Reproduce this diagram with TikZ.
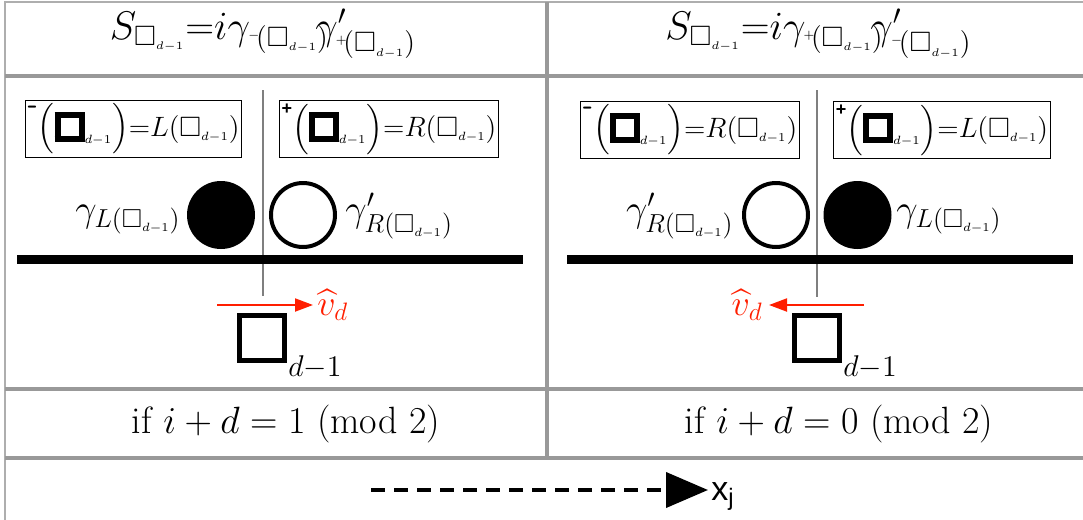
\RequirePackage{fix-cm}
\documentclass[tikz,border=0pt]{standalone}
\usepackage{fontspec}
\usepackage{amsmath}
\usepackage{amssymb}
\usetikzlibrary{arrows.meta,positioning}
\newfontfamily\axisfont{Liberation Sans}
\DeclareMathSizes{14}{14}{9.8}{6}
\DeclareMathSizes{19}{19}{13}{6}
\DeclareMathSizes{20}{20}{14}{5.5}
\definecolor{gridgray}{HTML}{999999}
\definecolor{rimgray}{HTML}{AEAEAE}
\definecolor{axisgray}{HTML}{7F7F7F}
\definecolor{velred}{HTML}{FF1E00}
\newcommand{\thksq}[2]{{\setlength{\fboxrule}{#2}\setlength{\fboxsep}{0pt}\fbox{\rule{0pt}{#1}\rule{#1}{0pt}}}}
\newcommand{\mns}{\raisebox{11.5pt}{\fontsize{14}{14}\selectfont\sffamily\bfseries -}}
\newcommand{\pls}{\raisebox{11pt}{\fontsize{9}{9}\selectfont\axisfont\bfseries +}}
\newcommand{\dsub}{\scriptscriptstyle d-1}
\newcommand{\hsub}[1]{{}^{#1}\mkern-3mu(\square_{d-1})}
\tikzset{
  gridline/.style={draw=gridgray, line width=2pt},
  rimline/.style={draw=rimgray, line width=1pt},
  midline/.style={draw=axisgray, line width=0.75pt},
  floor/.style={draw=black, line width=4.5pt},
  lbox/.style={rectangle, draw=black, line width=0.6pt, minimum width=101.5pt,
               minimum height=28.5pt, inner sep=1pt, font=\fontsize{14}{17}\selectfont},
  ball/.style={circle, fill=black, minimum size=34pt, inner sep=0pt},
  ring/.style={circle, draw=black, line width=2pt, minimum size=32pt, inner sep=0pt},
  glab/.style={inner sep=0pt, font=\fontsize{19}{22}\selectfont},
  vlab/.style={inner sep=0pt, text=velred, font=\fontsize{18}{21}\selectfont},
  velarr/.style={-{Triangle[length=9pt,width=6.5pt]}, draw=velred, line width=1pt},
  cube/.style={rectangle, draw=black, line width=2.5pt, minimum size=22.5pt, inner sep=0pt},
  cubesub/.style={inner sep=0pt, font=\fontsize{15}{18}\selectfont},
  hdr/.style={inner sep=0pt, font=\fontsize{20}{24}\selectfont},
  cond/.style={inner sep=0pt, font=\fontsize{19}{22}\selectfont},
  axisarr/.style={-{Triangle[length=21pt,width=17.5pt]}, line width=2pt, dash pattern=on 7pt off 4.5pt},
}
\begin{document}
\begin{tikzpicture}[x=0.5pt, y=-0.5pt]
  \useasboundingbox (0,0) rectangle (1083,520);
  \draw[rimline] (5,520) -- (5,2) -- (1083,2);
  \draw[gridline] (5,76) -- (1083,76);
  \draw[gridline] (5,388.5) -- (1083,388.5);
  \draw[gridline] (5,457.5) -- (1083,457.5);
  \draw[gridline] (546.5,2) -- (546.5,457.5);

  \node[hdr, anchor=base] (hdL) at (263,39)
    {$S_{\square_{d-1}}{=}i\gamma_{\hsub{-}}\mkern-6mu\gamma'_{\hsub{+}}$};
  \node[hdr, anchor=base] (hdR) at (818.5,39)
    {$S_{\square_{d-1}}{=}i\gamma_{\hsub{+}}\mkern-6mu\gamma'_{\hsub{-}}$};

  \draw[midline] (263,90) -- (263,296);
  \draw[midline] (817,90) -- (817,297);

  \node[lbox] (bxLa) at (133.5,129)
    {$\mns\Bigl(\thksq{9pt}{3pt}_{\dsub}\Bigr){=}L(\square_{\dsub})$};
  \node[lbox] (bxLb) at (389,129)
    {$\pls\Bigl(\thksq{9pt}{3pt}_{\dsub}\Bigr){=}R(\square_{\dsub})$};
  \node[lbox] (bxRa) at (690,130)
    {$\mns\Bigl(\thksq{9pt}{3pt}_{\dsub}\Bigr){=}R(\square_{\dsub})$};
  \node[lbox] (bxRb) at (942,130)
    {$\pls\Bigl(\thksq{9pt}{3pt}_{\dsub}\Bigr){=}L(\square_{\dsub})$};

  \node[ball] (ballL) at (221,215) {};
  \node[ring] (ringL) at (303,215) {};
  \node[ring] (ringR) at (776,215) {};
  \node[ball] (ballR) at (857.5,215) {};
  \node[glab, anchor=base east] (gamLL) at (181,221) {$\gamma_{L(\square_{d-1})}$};
  \node[glab, anchor=base west] (gamLR) at (345,221) {$\gamma'_{R(\square_{d-1})}$};
  \node[glab, anchor=base east] (gamRL) at (734,221) {$\gamma'_{R(\square_{d-1})}$};
  \node[glab, anchor=base west] (gamRR) at (896,221) {$\gamma_{L(\square_{d-1})}$};

  \draw[floor] (17,259.5) -- (523,259.5);
  \draw[floor] (567,259.5) -- (1073,259.5);

  \coordinate (vLa) at (217,305);
  \coordinate (vLb) at (313,305);
  \coordinate (vRa) at (864,305);
  \coordinate (vRb) at (769,305);
  \draw[velarr] (vLa) -- (vLb);
  \draw[velarr] (vRa) -- (vRb);
  \node[vlab, anchor=base west] (vL) at (317,315) {$\widehat{v}_d$};
  \node[vlab, anchor=base east] (vR) at (763,315) {$\widehat{v}_d$};

  \node[cube] (sqL) at (262,338) {};
  \node[cube] (sqR) at (817,338) {};
  \node[cubesub, anchor=base west] (subL) at (288,376) {$d{-}1$};
  \node[cubesub, anchor=base west] (subR) at (843,376) {$d{-}1$};

  \node[cond, anchor=base] (ifL) at (286,433) {if $i+d=1$ (mod 2)};
  \node[cond, anchor=base] (ifR) at (839,433) {if $i+d=0$ (mod 2)};

  \coordinate (xa) at (371,490);
  \coordinate (xb) at (708,490);
  \draw[axisarr] (xa) -- (xb);
  \node[inner sep=0pt, anchor=base west, font=\axisfont\fontsize{17}{20}\selectfont] (xj) at (711,500)
    {x\textsubscript{j}};
\end{tikzpicture}
\end{document}
